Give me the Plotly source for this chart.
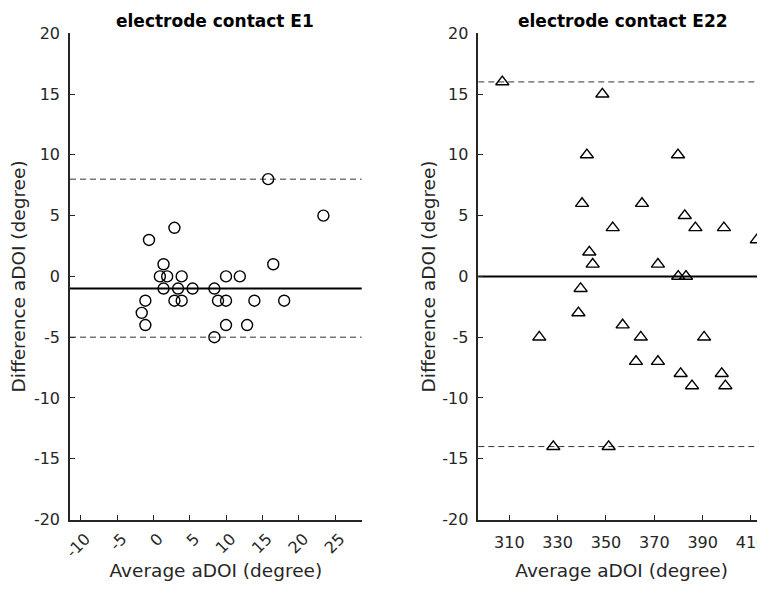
import plotly.graph_objects as go

# ---------------- data ----------------
e1_avg = [15.8, 23.4, 2.9, -0.6, 1.4, 16.5, 0.9, 1.9, 3.9, 10.0, 11.9, 1.4, 3.4, 5.4,
          8.4, -1.1, 2.9, 3.9, 8.9, 10.0, 13.9, 18.0, -1.6, -1.1, 10.0, 12.9, 8.4]
e1_diff = [8, 5, 4, 3, 1, 1, 0, 0, 0, 0, 0, -1, -1, -1,
           -1, -2, -2, -2, -2, -2, -2, -2, -3, -4, -4, -4, -5]
e1_mean = -1
e1_upper = 8
e1_lower = -5

e22_avg = [307.1, 348.5, 342.1, 379.8, 340.1, 364.9, 382.6, 352.8, 387.0, 398.8,
           412.4, 343.1, 344.5, 371.5, 379.9, 383.1, 339.5, 338.6, 322.4, 356.9,
           364.4, 390.6, 362.4, 371.5, 380.9, 385.6, 397.9, 399.4, 328.2, 351.1]
e22_diff = [16, 15, 10, 10, 6, 6, 5, 4, 4, 4,
            3, 2, 1, 1, 0, 0, -1, -3, -5, -4,
            -5, -5, -7, -7, -8, -9, -8, -9, -14, -14]
e22_mean = 0
e22_upper = 16
e22_lower = -14

titles = ["electrode contact E1", "electrode contact E22"]
x_label = "Average aDOI (degree)"
y_label = "Difference aDOI (degree)"
y_ticks = [-20, -15, -10, -5, 0, 5, 10, 15, 20]
x1_ticks = [-10, -5, 0, 5, 10, 15, 20, 25]
x2_ticks = [310, 330, 350, 370, 390, 410]

# ---------------- figure ----------------
OFF = 8                      # page body margin offset
W, H = 765 - OFF, 591 - OFF
FONT = "DejaVu Sans"
AX = "#262626"

fig = go.Figure()

fig.add_trace(go.Scatter(
    x=e1_avg, y=e1_diff, mode="markers", xaxis="x", yaxis="y",
    marker=dict(symbol="circle-open", size=11, color="black",
                line=dict(width=1.4, color="black")),
    showlegend=False, cliponaxis=False))

fig.add_trace(go.Scatter(
    x=e22_avg, y=e22_diff, mode="markers", xaxis="x2", yaxis="y2",
    marker=dict(symbol="triangle-up-open", size=11.5, color="black",
                line=dict(width=1.4, color="black")),
    showlegend=False, cliponaxis=False))

def hline(xref, yref, yv, dash, width):
    fig.add_shape(type="line", xref=xref + " domain", yref=yref,
                  x0=0, x1=1, y0=yv, y1=yv,
                  line=dict(color="black" if dash == "solid" else "#333333",
                            width=width, dash=dash), layer="below")

DASH = "6px,4px"
hline("x", "y", e1_mean, "solid", 2)
hline("x", "y", e1_upper, DASH, 1)
hline("x", "y", e1_lower, DASH, 1)
hline("x2", "y2", e22_mean, "solid", 2)
hline("x2", "y2", e22_upper, DASH, 1)
hline("x2", "y2", e22_lower, DASH, 1)

def px_x(s):
    return min(1.0, (s - OFF) / W)

def px_y(s):
    return 1 - (s - OFF) / H

def lab(vals):
    return [str(v) for v in vals]   # plain hyphen-minus like the reference

tickfont = dict(family=FONT, size=16, color=AX)
titlefont = dict(family=FONT, size=18.5, color=AX)

axis_common = dict(showline=True, linecolor=AX, linewidth=1.5, ticks="inside",
                   ticklen=5, tickwidth=1.3, tickcolor=AX, showgrid=False,
                   zeroline=False, mirror=False, tickfont=tickfont,
                   automargin=False, ticklabeloverflow="allow")

fig.update_layout(
    width=W, height=H,
    margin=dict(l=0, r=0, t=0, b=0),
    paper_bgcolor="white", plot_bgcolor="white",
    font=dict(family=FONT, color=AX),
    xaxis=dict(domain=[px_x(70), px_x(361.7)], range=[-11.47, 28.67],
               tickvals=x1_ticks, ticktext=lab(x1_ticks), tickangle=-45, anchor="y",
               title=dict(text=x_label, font=titlefont, standoff=4),
               ticklabelshift=5, ticklabelstandoff=2, **axis_common),
    yaxis=dict(domain=[px_y(519.5), px_y(33.3)], range=[-20, 20],
               tickvals=y_ticks, ticktext=lab(y_ticks), anchor="x", ticklabelstandoff=5,
               title=dict(text=y_label, font=titlefont, standoff=3),
               **axis_common),
    xaxis2=dict(domain=[px_x(478.3), 1.0], range=[297.17, 415.8],
                tickvals=x2_ticks, ticktext=lab(x2_ticks), anchor="y2", ticklabelstandoff=8,
                title=dict(text=x_label, font=titlefont, standoff=13),
                **axis_common),
    yaxis2=dict(domain=[px_y(519.5), px_y(33.3)], range=[-20, 20],
                tickvals=y_ticks, ticktext=lab(y_ticks), anchor="x2", ticklabelstandoff=5,
                title=dict(text=y_label, font=titlefont, standoff=2),
                **axis_common),
)

for cx, t in zip([215, 623], titles):
    fig.add_annotation(x=px_x(cx), y=px_y(21), xref="paper", yref="paper",
                       text="<b>" + t + "</b>", showarrow=False,
                       xanchor="center", yanchor="middle",
                       font=dict(family=FONT, size=17, color="black"))

fig.write_html("out.html")
